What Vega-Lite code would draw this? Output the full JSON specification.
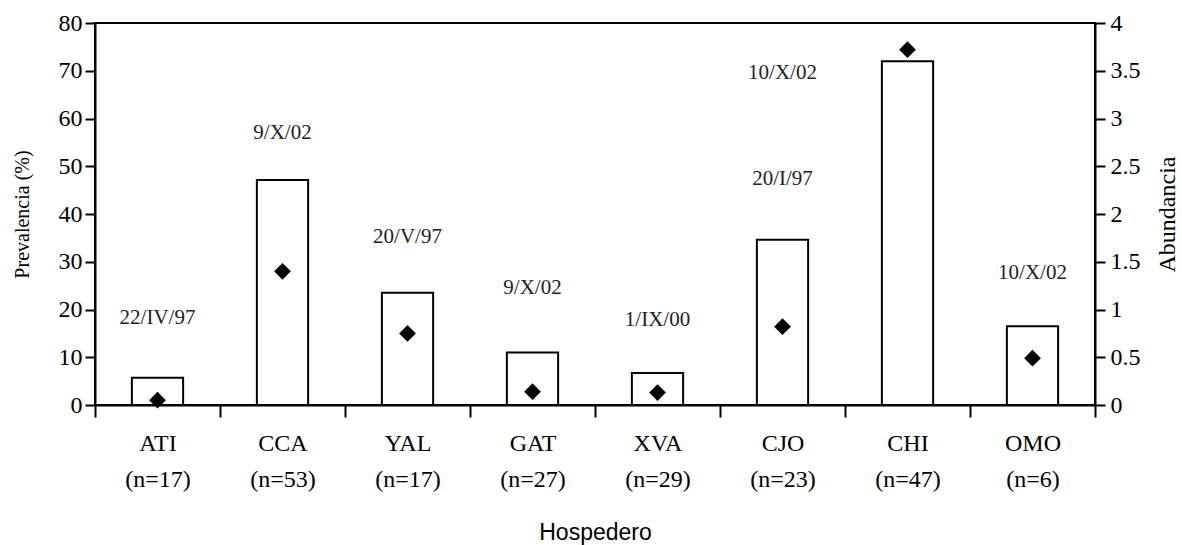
{
  "$schema": "https://vega.github.io/schema/vega-lite/v6.json",
  "width": 1000,
  "height": 382,
  "autosize": {"type": "none"},
  "padding": {"left": 95, "top": 23, "right": 87, "bottom": 140},
  "background": "white",
  "config": {
    "view": {"stroke": "black", "strokeWidth": 2},
    "axis": {"domainColor": "black", "domainWidth": 2, "tickColor": "black", "tickWidth": 2, "labelColor": "black", "titleColor": "black", "grid": false, "labelFont": "Liberation Serif", "titleFont": "Liberation Serif", "titleFontWeight": "normal"}
  },
  "datasets": {
    "main": [
      {"hospedero": "ATI", "n": 17, "prevalencia": 5.7, "abundancia": 0.05},
      {"hospedero": "CCA", "n": 53, "prevalencia": 47.1, "abundancia": 1.40},
      {"hospedero": "YAL", "n": 17, "prevalencia": 23.5, "abundancia": 0.75},
      {"hospedero": "GAT", "n": 27, "prevalencia": 11.0, "abundancia": 0.14},
      {"hospedero": "XVA", "n": 29, "prevalencia": 6.7, "abundancia": 0.13},
      {"hospedero": "CJO", "n": 23, "prevalencia": 34.6, "abundancia": 0.82},
      {"hospedero": "CHI", "n": 47, "prevalencia": 72.0, "abundancia": 3.72},
      {"hospedero": "OMO", "n": 6, "prevalencia": 16.5, "abundancia": 0.49}
    ],
    "fechas": [
      {"posicion": "ATI", "fecha": "22/IV/97", "altura": 18.2},
      {"posicion": "CCA", "fecha": "9/X/02", "altura": 57.0},
      {"posicion": "YAL", "fecha": "20/V/97", "altura": 35.2},
      {"posicion": "GAT", "fecha": "9/X/02", "altura": 24.5},
      {"posicion": "XVA", "fecha": "1/IX/00", "altura": 17.8},
      {"posicion": "CJO", "fecha": "20/I/97", "altura": 47.3},
      {"posicion": "CJO", "fecha": "10/X/02", "altura": 69.5},
      {"posicion": "OMO", "fecha": "10/X/02", "altura": 27.6}
    ]
  },
  "layer": [
    {
      "layer": [
        {
          "data": {"name": "main"},
          "mark": {"type": "bar", "fill": "white", "stroke": "black", "strokeWidth": 2, "width": {"band": 0.41}},
          "encoding": {
            "x": {
              "field": "hospedero", "type": "nominal", "sort": null,
              "scale": {"domain": ["ATI", "CCA", "YAL", "GAT", "XVA", "CJO", "CHI", "OMO"], "paddingInner": 0, "paddingOuter": 0},
              "axis": {
                "title": "Hospedero", "titleFont": "Liberation Sans", "titleFontSize": 23, "titlePadding": 30,
                "labelAngle": 0, "labelFontSize": 24, "labelLineHeight": 36, "labelPadding": 14,
                "tickBand": "extent", "tickSize": 12,
                "labelExpr": "[datum.value, {'ATI':'(n=17)','CCA':'(n=53)','YAL':'(n=17)','GAT':'(n=27)','XVA':'(n=29)','CJO':'(n=23)','CHI':'(n=47)','OMO':'(n=6)'}[datum.value]]"
              }
            },
            "y": {
              "field": "prevalencia", "type": "quantitative",
              "scale": {"domain": [0, 80], "nice": false},
              "axis": {"title": "Prevalencia (%)", "titleFontSize": 20, "titleAngle": 270, "titleX": -73, "titleY": 191, "titleBaseline": "middle", "titleAlign": "center", "values": [0, 10, 20, 30, 40, 50, 60, 70, 80], "labelFontSize": 24, "tickSize": 10, "labelPadding": 3}
            }
          }
        },
        {
          "data": {"name": "fechas"},
          "mark": {"type": "text", "font": "Liberation Serif", "fontSize": 21, "color": "#222", "baseline": "middle", "align": "center"},
          "encoding": {
            "x": {"field": "posicion", "type": "nominal", "sort": null},
            "y": {"field": "altura", "type": "quantitative"},
            "text": {"field": "fecha"}
          }
        }
      ]
    },
    {
      "data": {"name": "main"},
      "mark": {"type": "point", "shape": "diamond", "filled": true, "color": "black", "size": 280, "opacity": 1},
      "encoding": {
        "x": {"field": "hospedero", "type": "nominal", "sort": null},
        "y": {
          "field": "abundancia", "type": "quantitative",
          "scale": {"domain": [0, 4], "nice": false},
          "axis": {"orient": "right", "title": "Abundancia", "titleAngle": 270, "titleX": 72, "titleY": 191, "titleBaseline": "middle", "titleAlign": "center", "titleFontSize": 24, "values": [0, 0.5, 1, 1.5, 2, 2.5, 3, 3.5, 4], "format": "~g", "labelFontSize": 24, "tickSize": 10, "labelPadding": 5}
        }
      }
    }
  ],
  "resolve": {"scale": {"y": "independent"}}
}
